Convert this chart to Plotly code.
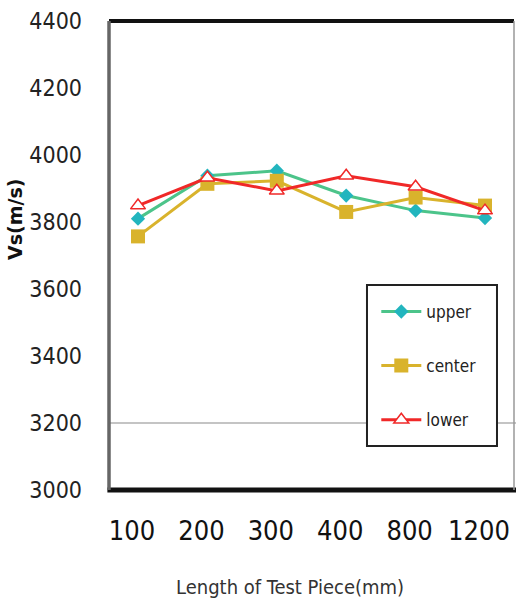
import plotly.graph_objects as go

# Specimen lengths (mm) and shear-wave velocity readings (m/s)
lengths = ["100", "200", "300", "400", "800", "1200"]
upper = [3810, 3938, 3953, 3879, 3834, 3812]
center = [3757, 3914, 3923, 3830, 3873, 3849]
lower = [3849, 3932, 3893, 3938, 3905, 3834]

NARROW = "DejaVu Sans Condensed, Liberation Sans Narrow, Liberation Sans, sans-serif"

fig = go.Figure()

fig.add_trace(go.Scatter(
    x=lengths, y=upper, name="upper", mode="lines+markers",
    line=dict(color="#4CC48A", width=3),
    marker=dict(symbol="diamond", size=11, color="#22B5BE"),
    legendgroup="a",
))
fig.add_trace(go.Scatter(
    x=lengths, y=center, name="center", mode="lines+markers",
    line=dict(color="#D9B32C", width=3),
    marker=dict(symbol="square", size=14, color="#D9B32C"),
    legendgroup="b",
))
fig.add_trace(go.Scatter(
    x=lengths, y=lower, name="lower", mode="lines+markers",
    line=dict(color="#F02828", width=3),
    marker=dict(symbol="triangle-up", size=13, color="white",
                line=dict(color="#F02828", width=1.5)),
    legendgroup="c",
))

shapes = [
    # single reference gridline at 3200
    dict(type="line", xref="paper", yref="y", x0=0, x1=1.01, y0=3200, y1=3200,
         line=dict(color="#8a8a8a", width=1.2), layer="below"),
    # legend frame
    dict(type="rect", xref="paper", yref="paper", x0=0.637, x1=0.958, y0=0.094, y1=0.437,
         line=dict(color="#222", width=2), fillcolor="white", layer="above"),
    # plot frame
    dict(type="line", xref="paper", yref="paper", x0=0, x1=1, y0=1, y1=1,
         line=dict(color="#111", width=4)),
    dict(type="line", xref="paper", yref="paper", x0=-0.004, x1=1.01, y0=0, y1=0,
         line=dict(color="#111", width=5)),
    dict(type="line", xref="paper", yref="paper", x0=0, x1=0, y0=0, y1=1,
         line=dict(color="#666", width=3.5)),
    dict(type="line", xref="paper", yref="paper", x0=1, x1=1, y0=0, y1=1,
         line=dict(color="#999", width=1.5)),
]

fig.update_layout(
    width=516, height=615,
    margin=dict(l=109, r=2, t=21, b=125),
    paper_bgcolor="white", plot_bgcolor="white",
    showlegend=True,
    legend=dict(
        x=0.66, y=0.418, xanchor="left", yanchor="top",
        bgcolor="rgba(0,0,0,0)", borderwidth=0,
        font=dict(family=NARROW, size=17, color="#222"),
        traceorder="grouped", tracegroupgap=29,
        itemwidth=40,
    ),
    xaxis=dict(
        type="category", showgrid=False, zeroline=False, showline=False,
        ticks="", tickfont=dict(family=NARROW, size=27, color="#111"),
        ticklabelshift=-6, ticklabelstandoff=22,
    ),
    yaxis=dict(
        range=[3000, 4400], tickvals=[3000, 3200, 3400, 3600, 3800, 4000, 4200, 4400],
        showgrid=False, zeroline=False, showline=False, ticks="",
        tickfont=dict(family=NARROW, size=23, color="#222"),
        ticklabelstandoff=26,
    ),
    shapes=shapes,
    annotations=[
        dict(text="<b>Vs(m/s)</b>", xref="paper", yref="paper",
             x=-0.232, y=0.576, xanchor="center", yanchor="middle", textangle=-90,
             showarrow=False, font=dict(family="DejaVu Sans", size=19, color="#111")),
        dict(text="Length of Test Piece(mm)", xref="paper", yref="paper",
             x=0.447, y=-0.206, xanchor="center", yanchor="middle",
             showarrow=False, font=dict(family=NARROW, size=20, color="#333")),
    ],
)

fig.write_html("out.html")
